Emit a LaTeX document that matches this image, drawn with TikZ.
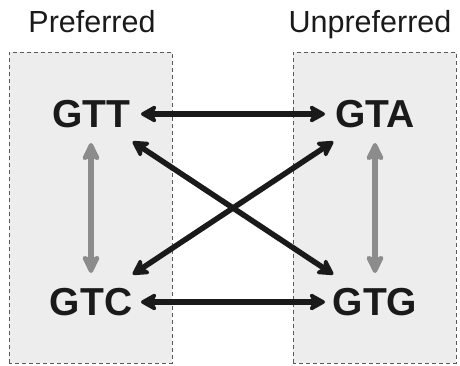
\documentclass[tikz,border=0pt]{standalone}
\usepackage{fontspec}
\setmainfont{Liberation Sans}
\usetikzlibrary{arrows.meta}
\definecolor{panelfill}{HTML}{EDEDED}
\definecolor{paneledge}{HTML}{5A5A5A}
\definecolor{inkdark}{HTML}{1A1A1A}
\definecolor{inkgray}{HTML}{8C8C8C}
\tikzset{
  panel/.style={fill=panelfill, draw=paneledge, line width=0.9pt, dash pattern=on 4pt off 3pt},
  codon/.style={inner sep=0pt, font=\fontsize{39}{39}\selectfont\bfseries, text=inkdark},
  heading/.style={anchor=base, font=\fontsize{30.5}{30.5}\selectfont, text=inkdark},
  swap/.style={line width=5.5pt, draw=inkdark,
    {Stealth[length=19pt,width=21pt,inset=5pt,round]}-{Stealth[length=19pt,width=21pt,inset=5pt,round]},
    shorten <=50pt, shorten >=50pt},
  synonym/.style={line width=6pt, draw=inkgray,
    {Stealth[length=22pt,width=21pt,inset=5pt,round]}-{Stealth[length=22pt,width=21pt,inset=5pt,round]},
    shorten <=29pt, shorten >=29pt}
}
\begin{document}
\begin{tikzpicture}[x=1pt,y=1pt]
  \useasboundingbox (0,0) rectangle (460,365);
  % two shaded panels
  \path[panel] (9,2) rectangle (172,313);
  \path[panel] (293,2) rectangle (456,313);
  % headings
  \node[heading] (pref) at (92,332) {Preferred};
  \node[heading] (unpref) at (370,332) {Unpreferred};
  % codons
  \node[codon] (gtt) at (91,251) {GTT};
  \node[codon] (gta) at (375,251) {GTA};
  \node[codon] (gtc) at (91,63) {GTC};
  \node[codon] (gtg) at (375,63) {GTG};
  % transitions within a panel
  \draw[synonym] (gtt.center) -- (gtc.center);
  \draw[synonym] (gta.center) -- (gtg.center);
  % transitions across panels
  \draw[swap] (gtt.center) -- (gta.center);
  \draw[swap] (gtc.center) -- (gtg.center);
  \draw[swap] (gtt.center) -- (gtg.center);
  \draw[swap] (gta.center) -- (gtc.center);
\end{tikzpicture}
\end{document}
